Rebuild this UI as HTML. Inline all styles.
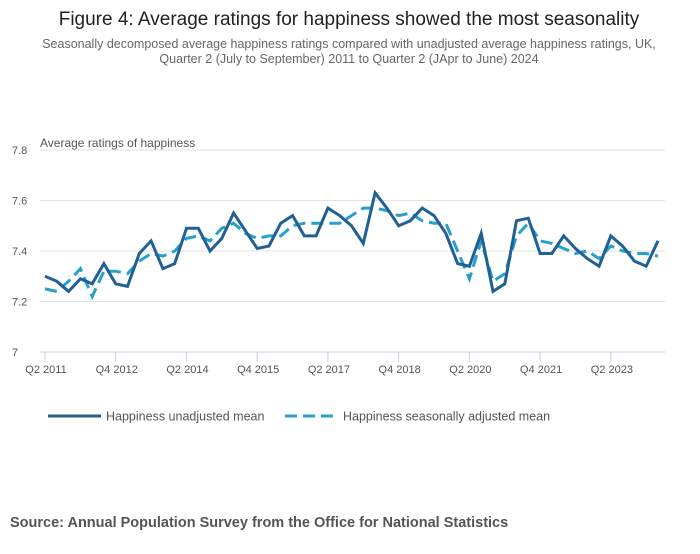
<!DOCTYPE html>
<html><head><meta charset="utf-8"><style>
body{margin:0;background:#fff;font-family:"Liberation Sans",sans-serif;}
svg text{font-family:"Liberation Sans",sans-serif;}
</style></head><body>
<svg width="700" height="549" viewBox="0 0 700 549">
<text x="349" y="25" text-anchor="middle" font-size="19" fill="#222">Figure 4: Average ratings for happiness showed the most seasonality</text>
<text x="349" y="48" text-anchor="middle" font-size="12.5" fill="#666">Seasonally decomposed average happiness ratings compared with unadjusted average happiness ratings, UK,</text>
<text x="349" y="63" text-anchor="middle" font-size="12.5" fill="#666">Quarter 2 (July to September) 2011 to Quarter 2 (JApr to June) 2024</text>
<text x="40" y="147" font-size="12" fill="#555">Average ratings of happiness</text>
<g id="grid"></g><g id="axes"></g><g id="series"></g>
<g>
<line x1="48" y1="416" x2="101" y2="416" stroke="#206095" stroke-width="3"/>
<text x="106" y="420.5" font-size="12.5" fill="#555">Happiness unadjusted mean</text>
<line x1="285" y1="416" x2="338" y2="416" stroke="#27a0cc" stroke-width="3" stroke-dasharray="12,6"/>
<text x="343" y="420.5" font-size="12.5" fill="#555">Happiness seasonally adjusted mean</text>
</g>
<text x="10" y="527" font-size="14.5" font-weight="bold" fill="#555">Source: Annual Population Survey from the Office for National Statistics</text>
</svg>
<script>
const unadjusted=[7.30,7.28,7.24,7.29,7.27,7.35,7.27,7.26,7.39,7.44,7.33,7.35,7.49,7.49,7.40,7.45,7.55,7.48,7.41,7.42,7.51,7.54,7.46,7.46,7.57,7.54,7.50,7.43,7.63,7.57,7.50,7.52,7.57,7.54,7.47,7.35,7.34,7.47,7.24,7.27,7.52,7.53,7.39,7.39,7.46,7.41,7.37,7.34,7.46,7.42,7.36,7.34,7.44];
const adjusted=[7.25,7.24,7.28,7.33,7.22,7.32,7.32,7.31,7.36,7.39,7.38,7.40,7.45,7.46,7.44,7.49,7.51,7.47,7.45,7.46,7.46,7.50,7.51,7.51,7.51,7.51,7.54,7.57,7.57,7.56,7.54,7.55,7.52,7.51,7.51,7.40,7.29,7.44,7.28,7.31,7.46,7.51,7.44,7.43,7.41,7.39,7.40,7.37,7.42,7.40,7.39,7.39,7.38];
const yTicks=[7,7.2,7.4,7.6,7.8];
const xTickLabels=["Q2 2011","Q4 2012","Q2 2014","Q4 2015","Q2 2017","Q4 2018","Q2 2020","Q4 2021","Q2 2023"];
const xTickIndex=[0,6,12,18,24,30,36,42,48];
const NS="http://www.w3.org/2000/svg";
const X=i=>45+i*(613/52);
const Y=v=>352-(v-7)*252.5;
function mk(tag,attrs,parent){const e=document.createElementNS(NS,tag);for(const k in attrs)e.setAttribute(k,attrs[k]);parent.appendChild(e);return e;}
const grid=document.getElementById('grid'),axes=document.getElementById('axes'),series=document.getElementById('series');
yTicks.forEach(v=>{
 if(v>7){const l=mk('line',{x1:40,x2:665,y1:Y(v),y2:Y(v),stroke:'#e2e2e2','stroke-width':1},grid);
 
 }
 const t=mk('text',{x:12,y:Y(v)+4,'font-size':11,fill:'#555'},axes);t.textContent=String(v);
 
 
});
const ax=mk('line',{x1:40,x2:665,y1:352,y2:352,stroke:'#c4d0e4','stroke-width':1},axes);


xTickIndex.forEach((qi,k)=>{
 const tk=mk('line',{x1:X(qi),x2:X(qi),y1:352,y2:362,stroke:'#c4d0e4','stroke-width':1},axes);
 
 
 const t=mk('text',{x:X(qi)+1,y:373,'font-size':11,fill:'#555','text-anchor':'middle'},axes);t.textContent=xTickLabels[k];
 
 
});
const pts=a=>a.map((v,i)=>X(i).toFixed(1)+','+Y(v).toFixed(1)).join(' ');
const p2=mk('polyline',{points:pts(adjusted),fill:'none',stroke:'#27a0cc','stroke-width':3,'stroke-dasharray':'12,6'},series);


const p1=mk('polyline',{points:pts(unadjusted),fill:'none',stroke:'#206095','stroke-width':3,'stroke-linejoin':'miter'},series);


</script>
</body></html>
